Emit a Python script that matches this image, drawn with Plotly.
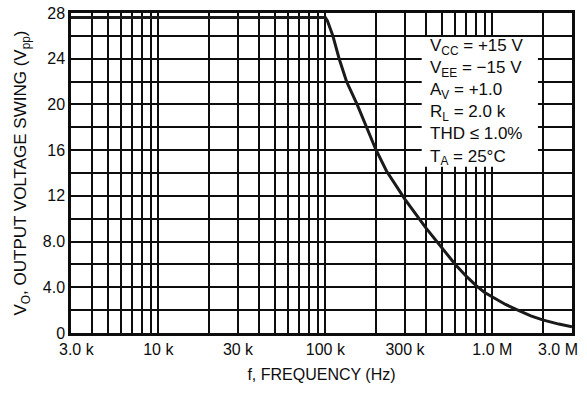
import math
import plotly.graph_objects as go

# Output voltage swing vs. frequency (log-frequency axis)
freq_hz = [3e3, 100e3, 103e3, 111e3, 121e3, 134e3, 155e3, 176e3, 200e3, 232e3,
           300e3, 400e3, 500e3, 600e3, 700e3, 800e3, 900e3, 1.0e6, 1.2e6,
           1.4e6, 1.7e6, 2.0e6, 2.5e6, 3.0e6]
vo_vpp = [27.6, 27.6, 27.3, 26.0, 24.0, 22.0, 20.0, 18.0, 16.1, 14.2,
          11.7, 9.2, 7.4, 6.0, 4.95, 4.15, 3.55, 3.15, 2.5,
          2.05, 1.5, 1.15, 0.78, 0.55]

# Log grid positions and the labels shown on them
x_grid = [3e3, 4e3, 5e3, 6e3, 7e3, 8e3, 9e3,
          10e3, 20e3, 30e3, 40e3, 50e3, 60e3, 70e3, 80e3, 90e3,
          100e3, 200e3, 300e3, 400e3, 500e3, 600e3, 700e3, 800e3, 900e3,
          1e6, 2e6, 3e6]
x_labels = {10e3: "10 k", 30e3: "30 k", 100e3: "100 k",
            300e3: "300 k", 1e6: "1.0 M"}
# end labels are set inside the frame edges
x_edge_labels = [(3e3, "3.0 k", "center", 6), (3e6, "3.0 M", "right", 8)]
y_grid = list(range(0, 29, 2))
y_labels = {0: "0", 4: "4.0", 8: "8.0", 12: "12", 16: "16",
            20: "20", 24: "24", 28: "28"}

conditions = ["V<sub>CC</sub> = +15 V", "V<sub>EE</sub> = \u221215 V",
              "A<sub>V</sub> = +1.0", "R<sub>L</sub> = 2.0 k",
              "THD \u2264 1.0%", "T<sub>A</sub> = 25\u00b0C"]

FONT = "Liberation Sans, Arial, Helvetica, sans-serif"
INK = "#0d0d0d"
# tiny pad so the end labels at 3 kHz / 3 MHz stay inside the axis range
x_range = [math.log10(min(x_grid)) - 1e-6, math.log10(max(x_grid)) + 1e-6]

fig = go.Figure()
fig.add_trace(go.Scatter(x=freq_hz, y=vo_vpp, mode="lines",
                         line=dict(color="#1a1a1a", width=3),
                         hoverinfo="skip", showlegend=False))

fig.update_layout(
    width=587, height=394,
    margin=dict(l=71, r=15, t=13, b=61),
    paper_bgcolor="white", plot_bgcolor="white",
    font=dict(family=FONT, size=16, color=INK),
    xaxis=dict(
        type="log", range=x_range, automargin=False,
        tickmode="array", tickvals=x_grid,
        ticktext=[x_labels.get(v, "") for v in x_grid],
        showgrid=True, gridcolor=INK, gridwidth=2.2,
        showline=True, mirror=True, linecolor=INK, linewidth=2.5,
        ticks="", zeroline=False,
        title=dict(text="f, FREQUENCY (Hz)", font=dict(size=16), standoff=12),
    ),
    yaxis=dict(
        range=[0, 28], automargin=False,
        tickmode="array", tickvals=y_grid,
        ticktext=[y_labels.get(v, "") for v in y_grid],
        showgrid=True, gridcolor=INK, gridwidth=2.2,
        showline=True, mirror=True, linecolor=INK, linewidth=2.5,
        ticks="", zeroline=False,
        title=dict(text="V<sub>O</sub>, OUTPUT VOLTAGE SWING (V<sub>pp</sub>)",
                   font=dict(size=17), standoff=12),
    ),
)

for val, txt, anchor, shift in x_edge_labels:
    fig.add_annotation(xref="x", yref="paper", x=math.log10(val), y=0,
                       xanchor=anchor, yanchor="middle", xshift=shift,
                       yshift=-16, showarrow=False, text=txt,
                       font=dict(family=FONT, size=16, color=INK))

# White panel behind the test-condition block
fig.add_shape(type="rect", xref="paper", yref="y",
              x0=0.70, x1=0.932, y0=14.55, y1=25.9,
              fillcolor="white", line=dict(width=0), layer="above")

fig.add_annotation(xref="paper", yref="y", x=0.712, y=20.25,
                   xanchor="left", yanchor="middle", align="left",
                   showarrow=False, text="<br>".join(conditions),
                   font=dict(family=FONT, size=17, color=INK))

fig.write_html("out.html")
